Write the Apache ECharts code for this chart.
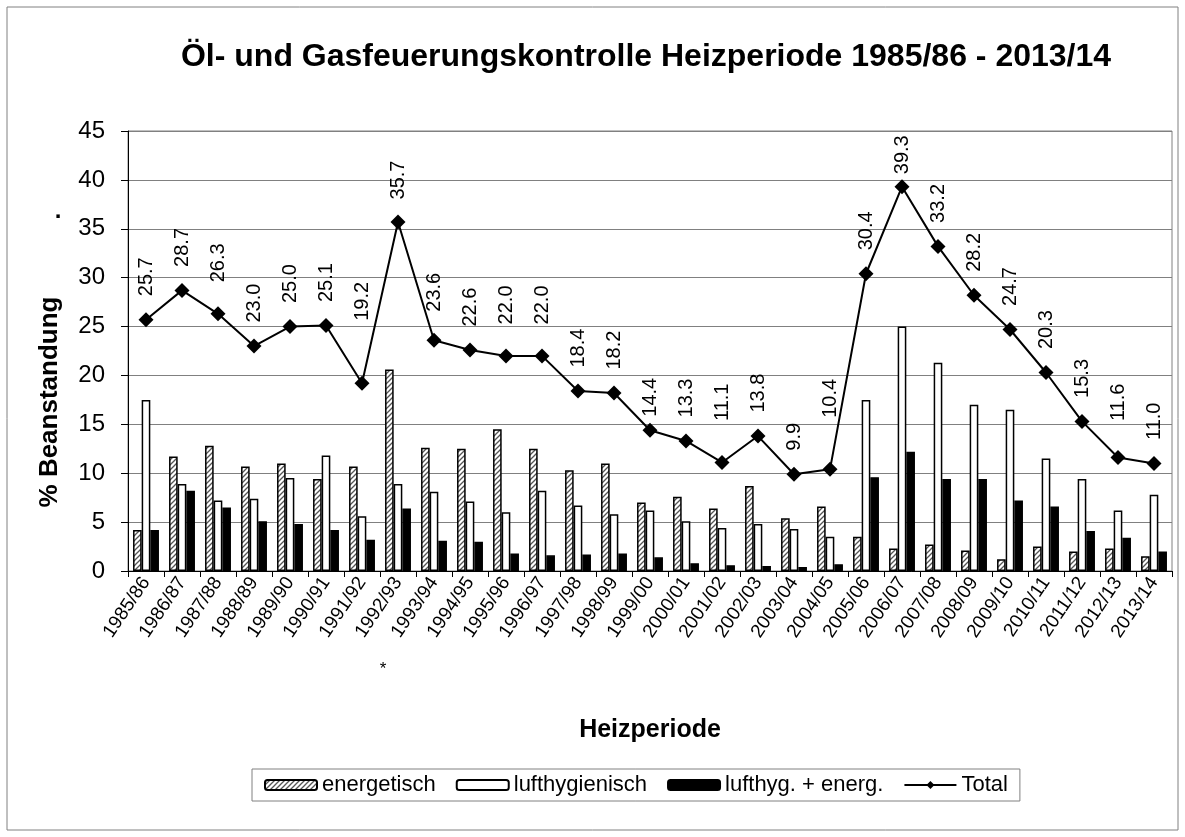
<!DOCTYPE html>
<html>
<head>
<meta charset="utf-8">
<script src="https://cdn.jsdelivr.net/npm/echarts@6/dist/echarts.min.js"></script>
<style>
  html, body { margin: 0; padding: 0; background: #fff; }
  #chart { width: 1185px; height: 837px; }
</style>
</head>
<body>
<div id="chart"></div>
<script>
// Heizperioden
const periods = ['1985/86', '1986/87', '1987/88', '1988/89', '1989/90', '1990/91', '1991/92', '1992/93',
  '1993/94', '1994/95', '1995/96', '1996/97', '1997/98', '1998/99', '1999/00', '2000/01', '2001/02',
  '2002/03', '2003/04', '2004/05', '2005/06', '2006/07', '2007/08', '2008/09', '2009/10', '2010/11',
  '2011/12', '2012/13', '2013/14']

const energetisch = [4.2, 11.7, 12.8, 10.7, 11.0, 9.4, 10.7, 20.6, 12.6, 12.5, 14.5, 12.5, 10.3, 11.0,
  7.0, 7.6, 6.4, 8.7, 5.4, 6.6, 3.5, 2.3, 2.7, 2.1, 1.2, 2.5, 2.0, 2.3, 1.5]

const lufthygienisch = [17.5, 8.9, 7.2, 7.4, 9.5, 11.8, 5.6, 8.9, 8.1, 7.1, 6.0, 8.2, 6.7, 5.8,
  6.2, 5.1, 4.4, 4.8, 4.3, 3.5, 17.5, 25.0, 21.3, 17.0, 16.5, 11.5, 9.4, 6.2, 7.8]

const beides = [4.2, 8.2, 6.5, 5.1, 4.8, 4.2, 3.2, 6.4, 3.1, 3.0, 1.8, 1.6, 1.7, 1.8,
  1.4, 0.8, 0.6, 0.5, 0.4, 0.7, 9.6, 12.2, 9.4, 9.4, 7.2, 6.6, 4.1, 3.4, 2.0]

const total = [25.7, 28.7, 26.3, 23.0, 25.0, 25.1, 19.2, 35.7, 23.6, 22.6, 22.0, 22.0, 18.4, 18.2,
  14.4, 13.3, 11.1, 13.8, 9.9, 10.4, 30.4, 39.3, 33.2, 28.2, 24.7, 20.3, 15.3, 11.6, 11.0]

const yTicks = { min: 0, max: 45, interval: 5 }

// Abstand der Beschriftung zum Punkt (wie in der Vorlage verschoben)
const labelGap = { 2: 31, 6: 62, 7: 22, 8: 28, 10: 31, 11: 31, 14: 13, 16: 41, 19: 51, 21: 12, 27: 36 }

const font = 'Liberation Sans, Arial, sans-serif'

// schraffiertes Muster fuer "energetisch"
function hatch() {
  const c = document.createElement('canvas')
  c.width = 5
  c.height = 5
  const ctx = c.getContext('2d')
  ctx.fillStyle = '#fff'
  ctx.fillRect(0, 0, 5, 5)
  ctx.strokeStyle = '#555'
  ctx.lineWidth = 1.3
  ctx.beginPath()
  ctx.moveTo(0, 5); ctx.lineTo(5, 0)
  ctx.moveTo(-2.5, 2.5); ctx.lineTo(2.5, -2.5)
  ctx.moveTo(2.5, 7.5); ctx.lineTo(7.5, 2.5)
  ctx.stroke()
  return { image: c, repeat: 'repeat' }
}

const barBorder = { borderColor: '#000', borderWidth: 1.5 }

const option = {
  animation: false,
  textStyle: { fontFamily: font, color: '#000' },
  title: {
    text: 'Öl- und Gasfeuerungskontrolle Heizperiode 1985/86 - 2013/14',
    left: 641,
    top: 36,
    textAlign: 'center',
    textStyle: { fontFamily: font, fontSize: 32, fontWeight: 'bold', color: '#000' }
  },
  legend: {
    left: 252,
    top: 769,
    padding: [5, 12],
    itemGap: 20,
    itemWidth: 52,
    itemHeight: 10,
    borderColor: '#808080',
    borderWidth: 1,
    textStyle: { fontFamily: font, fontSize: 22, color: '#000' },
    data: ['energetisch', 'lufthygienisch', 'lufthyg. + energ.', 'Total']
  },
  grid: {
    left: 128,
    right: 13,
    top: 131,
    bottom: 266,
    show: true,
    borderColor: '#808080',
    borderWidth: 1
  },
  xAxis: {
    type: 'category',
    data: periods,
    name: 'Heizperiode',
    nameLocation: 'middle',
    nameGap: 147,
    nameTextStyle: { fontFamily: font, fontSize: 25, fontWeight: 'bold', color: '#000' },
    axisLine: { lineStyle: { color: '#000', width: 1 } },
    axisTick: { show: true, length: 6, lineStyle: { color: '#000' } },
    axisLabel: { interval: 0, rotate: 56, fontSize: 19, margin: 8, color: '#000', fontFamily: font }
  },
  yAxis: {
    type: 'value',
    min: yTicks.min,
    max: yTicks.max,
    interval: yTicks.interval,
    axisLine: { show: true, lineStyle: { color: '#000', width: 1 } },
    axisTick: { show: true, length: 7, lineStyle: { color: '#000' } },
    axisLabel: { fontSize: 24, margin: 23, color: '#000', fontFamily: font },
    splitLine: { lineStyle: { color: '#808080', width: 1 } }
  },
  graphic: [
    {
      type: 'rect',
      shape: { x: 7, y: 7, width: 1171, height: 823 },
      style: { fill: 'none', stroke: '#808080', lineWidth: 1 },
      silent: true
    },
    {
      type: 'text',
      x: 50,
      y: 402,
      rotation: Math.PI / 2,
      style: {
        text: '% Beanstandung',
        font: 'bold 26px ' + font,
        fill: '#000',
        textAlign: 'center',
        textVerticalAlign: 'middle'
      }
    },
    {
      type: 'text',
      x: 58,
      y: 223,
      style: { text: '.', font: 'bold 24px ' + font, fill: '#000', textAlign: 'center', textVerticalAlign: 'bottom' }
    },
    {
      type: 'text',
      x: 383,
      y: 669,
      style: { text: '*', font: '17px ' + font, fill: '#000', textAlign: 'center', textVerticalAlign: 'middle' }
    }
  ],
  series: [
    {
      name: 'energetisch',
      type: 'bar',
      barGap: '0%',
      barCategoryGap: '28%',
      itemStyle: Object.assign({ color: hatch() }, barBorder),
      data: energetisch
    },
    {
      name: 'lufthygienisch',
      type: 'bar',
      barGap: '0%',
      barCategoryGap: '28%',
      itemStyle: Object.assign({ color: '#fff' }, barBorder),
      data: lufthygienisch
    },
    {
      name: 'lufthyg. + energ.',
      type: 'bar',
      barGap: '0%',
      barCategoryGap: '28%',
      itemStyle: Object.assign({ color: '#000' }, barBorder),
      data: beides
    },
    {
      name: 'Total',
      type: 'line',
      z: 5,
      symbol: 'diamond',
      symbolSize: 15,
      color: '#000',
      itemStyle: { color: '#000' },
      lineStyle: { color: '#000', width: 2 },
      label: {
        show: true,
        position: 'top',
        rotate: 90,
        align: 'left',
        verticalAlign: 'middle',
        fontSize: 20,
        fontFamily: font,
        color: '#000',
        formatter: p => p.value.toFixed(1)
      },
      data: total.map((v, i) => ({
        value: v,
        label: { distance: (labelGap[i] || 23) - 7 }
      }))
    }
  ]
}

const chart = echarts.init(document.getElementById('chart'))
chart.setOption(option)
</script>
</body>
</html>
